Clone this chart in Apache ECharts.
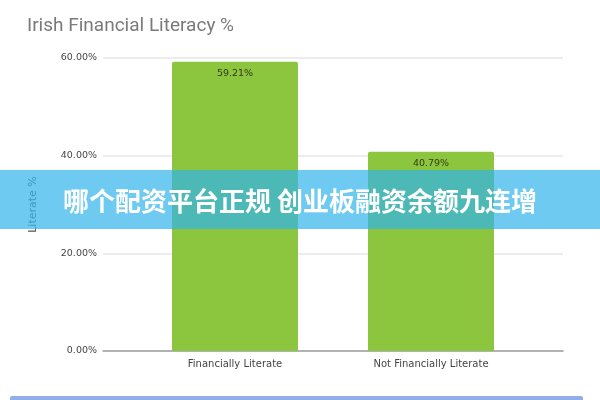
<!DOCTYPE html>
<html>
<head>
<meta charset="utf-8">
<script src="https://cdn.jsdelivr.net/npm/echarts@6/dist/echarts.min.js"></script>
<style>
  html, body { margin: 0; padding: 0; background: #fff; }
  #chart { width: 600px; height: 400px; }
</style>
</head>
<body>
<div id="chart"></div>
<script>
'use strict';

const categories = ['Financially Literate', 'Not Financially Literate']
const values = [59.21, 40.79]
const yTicks = [0, 20, 40, 60]
const titleText = 'Irish Financial Literacy %'
const yName = 'Literate %'
const bannerText = '哪个配资平台正规 创业板融资余额九连增'

const myChart = echarts.init(document.getElementById('chart'))

const fmt = v => v.toFixed(2) + '%'

const option = {
    backgroundColor: '#fff',
    animation: false,
    title: {
        text: titleText,
        left: 22,
        top: 12,
        textStyle: {
            color: '#7a7a7a',
            fontSize: 19,
            fontWeight: 'normal',
            fontFamily: 'Roboto'
        }
    },
    // outer grid: gridlines + y labels, wider than the bars
    grid: [
        { left: 103, right: 37, top: 58, bottom: 49 },
        { left: 137, right: 71, top: 58, bottom: 49 }
    ],
    xAxis: [{
        gridIndex: 0,
        type: 'category',
        data: ['', ''],
        axisLine: { lineStyle: { color: '#9e9e9e', width: 1.5 } },
        axisTick: { show: false },
        axisLabel: { show: false }
    }, {
        gridIndex: 1,
        type: 'category',
        data: categories,
        axisLine: { show: false },
        axisTick: { show: false },
        axisLabel: {
            margin: 8,
            fontSize: 10,
            color: '#444',
            fontFamily: 'DejaVu Sans'
        }
    }],
    yAxis: [{
        gridIndex: 0,
        type: 'value',
        min: yTicks[0],
        max: yTicks[yTicks.length - 1],
        interval: yTicks[1] - yTicks[0],
        name: yName,
        nameLocation: 'middle',
        nameGap: 64,
        nameTextStyle: { fontSize: 11, color: '#555', fontFamily: 'DejaVu Sans' },
        axisLine: { show: false },
        axisTick: { show: false },
        axisLabel: {
            margin: 6,
            fontSize: 9.5,
            color: '#444',
            fontFamily: 'DejaVu Sans',
            formatter: fmt
        },
        splitLine: { lineStyle: { color: '#e6e6e6', width: 1.5 } }
    }, {
        gridIndex: 1,
        type: 'value',
        min: yTicks[0],
        max: yTicks[yTicks.length - 1],
        show: false
    }],
    series: [{
        type: 'bar',
        xAxisIndex: 1,
        yAxisIndex: 1,
        data: values,
        barWidth: 126,
        itemStyle: { color: '#8cc63e', borderRadius: [2, 2, 0, 0] },
        label: {
            show: true,
            position: 'insideTop',
            distance: 7,
            fontSize: 9.5,
            color: '#2f3a12',
            fontFamily: 'DejaVu Sans',
            formatter: p => fmt(p.value)
        }
    }],
    graphic: [{
        type: 'rect',
        shape: { x: 0, y: 170, width: 600, height: 59 },
        style: { fill: 'rgba(50,180,235,0.7)' },
        z: 100
    }, {
        type: 'text',
        x: 300,
        y: 201,
        style: {
            text: bannerText,
            fill: '#fff',
            fontSize: 26,
            fontWeight: 'bold',
            fontFamily: 'Noto Sans CJK SC',
            align: 'center',
            verticalAlign: 'middle'
        },
        z: 101
    }, {
        type: 'rect',
        shape: { x: 10, y: 396, width: 573, height: 6, r: 2 },
        style: { fill: '#93ade8' },
        z: 100
    }]
}

myChart.setOption(option)
</script>
</body>
</html>
